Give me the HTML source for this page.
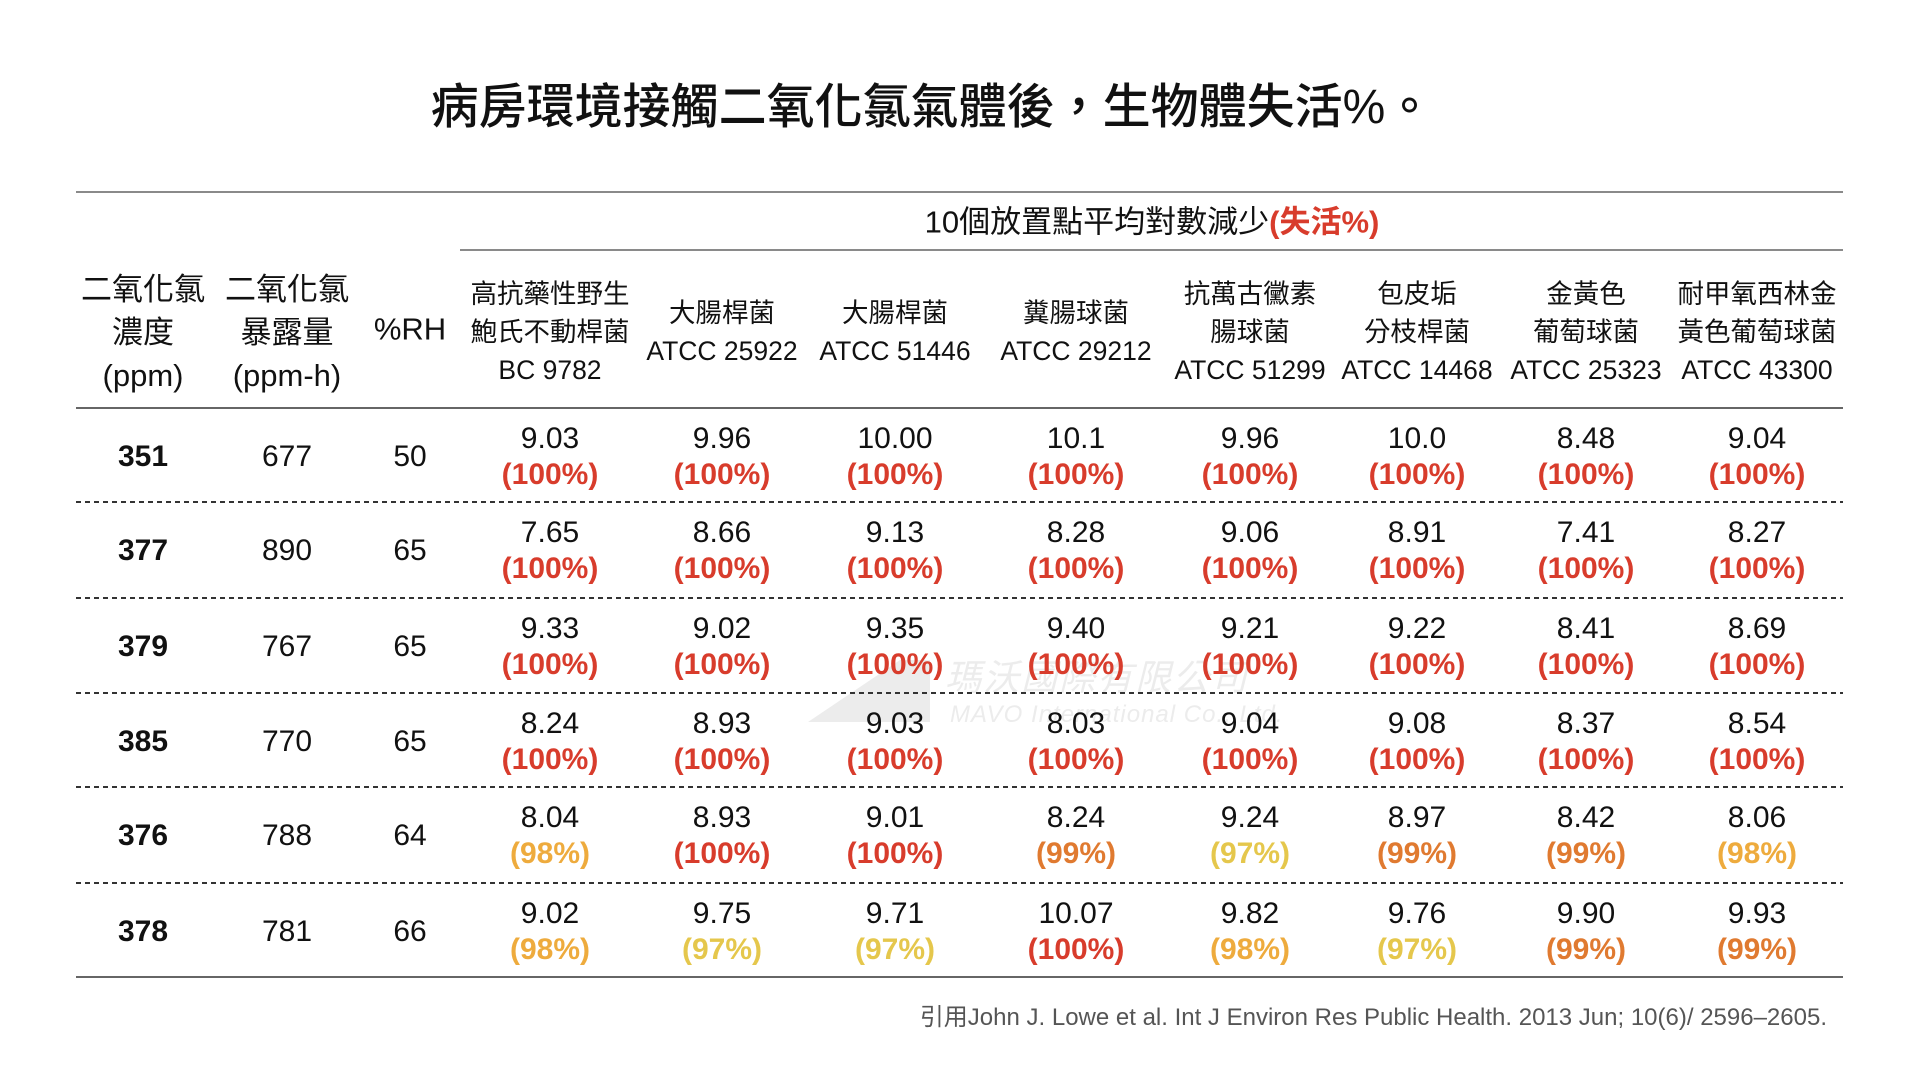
<!DOCTYPE html>
<html>
<head>
<meta charset="utf-8">
<style>
html,body{margin:0;padding:0;background:#fff;}
body{width:1920px;height:1080px;position:relative;overflow:hidden;font-family:"Liberation Sans","Noto Sans CJK TC",sans-serif;color:#111;}
.a{position:absolute;white-space:nowrap;line-height:1;transform:translate(-50%,-50%);}
.title{position:absolute;left:960px;top:108px;transform:translate(-50%,-50%);font-size:48px;line-height:1;white-space:nowrap;font-weight:500;color:#111;margin-left:-28px;}
.sub{font-size:31px;}
.sub b{color:#d83c2c;font-weight:bold;}
.hs{position:absolute;width:220px;margin-left:-110px;text-align:center;font-size:26.5px;line-height:38px;white-space:nowrap;}
.hb{position:absolute;width:200px;margin-left:-100px;text-align:center;font-size:31px;line-height:43px;white-space:nowrap;}
.d{position:absolute;width:0;height:95px;}
.d b,.d i{position:absolute;left:0;transform:translate(-50%,-50%);line-height:1;white-space:nowrap;font-size:30px;}
.d b{top:31px;font-weight:normal;color:#111;}
.d i{top:67px;font-style:normal;font-weight:bold;}
.f{position:absolute;left:0;transform:translate(-50%,-50%);top:49px;font-size:30px;line-height:1;white-space:nowrap;}
.f.bold{font-weight:bold;}
.r{color:#d83c2c;} .o{color:#e07a30;} .y{color:#eeab3d;} .g{color:#e5c74c;}
.c1{left:143px}.c2{left:287px}.c3{left:410px}.c4{left:550px}.c5{left:722px}.c6{left:895px}.c7{left:1076px}.c8{left:1250px}.c9{left:1417px}.c10{left:1586px}.c11{left:1757px}
.r1{top:408px}.r2{top:502px}.r3{top:598px}.r4{top:693px}.r5{top:787px}.r6{top:883px}
.foot{position:absolute;right:93px;top:1018px;transform:translateY(-50%);font-size:24px;line-height:1;color:#555;white-space:nowrap;}
svg{position:absolute;left:0;top:0;}
</style>
</head>
<body>
<svg width="1920" height="1080" viewBox="0 0 1920 1080">
  <g fill="#ececec">
    <polygon points="808,722 900,660 930,660 930,722"/>
    <text x="945" y="690" font-family="Noto Sans CJK TC, sans-serif" font-size="36" font-style="italic" letter-spacing="2">瑪沃國際有限公司</text>
    <text x="950" y="722" font-family="Liberation Sans, sans-serif" font-size="24" font-style="italic" letter-spacing="1">MAVO International Co., Ltd.</text>
  </g>
  <line x1="76" y1="192" x2="1843" y2="192" stroke="#8a8a8a" stroke-width="2"/>
  <line x1="460" y1="250" x2="1843" y2="250" stroke="#8a8a8a" stroke-width="2"/>
  <line x1="76" y1="408" x2="1843" y2="408" stroke="#666" stroke-width="2"/>
  <g stroke="#333" stroke-width="2" stroke-dasharray="5 4">
    <line x1="76" y1="502" x2="1843" y2="502"/>
    <line x1="76" y1="598" x2="1843" y2="598"/>
    <line x1="76" y1="693" x2="1843" y2="693"/>
    <line x1="76" y1="787" x2="1843" y2="787"/>
    <line x1="76" y1="883" x2="1843" y2="883"/>
  </g>
  <line x1="76" y1="977" x2="1843" y2="977" stroke="#666" stroke-width="2"/>
</svg>

<div class="title">病房環境接觸二氧化氯氣體後，生物體失活%。</div>

<div class="a sub" style="left:1152px;top:222px;">10個放置點平均對數減少<b>(失活%)</b></div>

<div class="hb" style="left:143px;top:268px;">二氧化氯<br>濃度<br>(ppm)</div>
<div class="hb" style="left:287px;top:268px;">二氧化氯<br>暴露量<br>(ppm-h)</div>
<div class="a" style="left:410px;top:329px;font-size:31px;">%RH</div>

<div class="hs c4" style="top:275px;">高抗藥性野生<br>鮑氏不動桿菌<br>BC 9782</div>
<div class="hs c5" style="top:294px;">大腸桿菌<br>ATCC 25922</div>
<div class="hs c6" style="top:294px;">大腸桿菌<br>ATCC 51446</div>
<div class="hs c7" style="top:294px;">糞腸球菌<br>ATCC 29212</div>
<div class="hs c8" style="top:275px;">抗萬古黴素<br>腸球菌<br>ATCC 51299</div>
<div class="hs c9" style="top:275px;">包皮垢<br>分枝桿菌<br>ATCC 14468</div>
<div class="hs c10" style="top:275px;">金黃色<br>葡萄球菌<br>ATCC 25323</div>
<div class="hs c11" style="top:275px;">耐甲氧西林金<br>黃色葡萄球菌<br>ATCC 43300</div>

<div class="d c1 r1"><span class="f bold">351</span></div>
<div class="d c2 r1"><span class="f">677</span></div>
<div class="d c3 r1"><span class="f">50</span></div>
<div class="d c4 r1"><b>9.03</b><i class="r">(100%)</i></div>
<div class="d c5 r1"><b>9.96</b><i class="r">(100%)</i></div>
<div class="d c6 r1"><b>10.00</b><i class="r">(100%)</i></div>
<div class="d c7 r1"><b>10.1</b><i class="r">(100%)</i></div>
<div class="d c8 r1"><b>9.96</b><i class="r">(100%)</i></div>
<div class="d c9 r1"><b>10.0</b><i class="r">(100%)</i></div>
<div class="d c10 r1"><b>8.48</b><i class="r">(100%)</i></div>
<div class="d c11 r1"><b>9.04</b><i class="r">(100%)</i></div>

<div class="d c1 r2"><span class="f bold">377</span></div>
<div class="d c2 r2"><span class="f">890</span></div>
<div class="d c3 r2"><span class="f">65</span></div>
<div class="d c4 r2"><b>7.65</b><i class="r">(100%)</i></div>
<div class="d c5 r2"><b>8.66</b><i class="r">(100%)</i></div>
<div class="d c6 r2"><b>9.13</b><i class="r">(100%)</i></div>
<div class="d c7 r2"><b>8.28</b><i class="r">(100%)</i></div>
<div class="d c8 r2"><b>9.06</b><i class="r">(100%)</i></div>
<div class="d c9 r2"><b>8.91</b><i class="r">(100%)</i></div>
<div class="d c10 r2"><b>7.41</b><i class="r">(100%)</i></div>
<div class="d c11 r2"><b>8.27</b><i class="r">(100%)</i></div>

<div class="d c1 r3"><span class="f bold">379</span></div>
<div class="d c2 r3"><span class="f">767</span></div>
<div class="d c3 r3"><span class="f">65</span></div>
<div class="d c4 r3"><b>9.33</b><i class="r">(100%)</i></div>
<div class="d c5 r3"><b>9.02</b><i class="r">(100%)</i></div>
<div class="d c6 r3"><b>9.35</b><i class="r">(100%)</i></div>
<div class="d c7 r3"><b>9.40</b><i class="r">(100%)</i></div>
<div class="d c8 r3"><b>9.21</b><i class="r">(100%)</i></div>
<div class="d c9 r3"><b>9.22</b><i class="r">(100%)</i></div>
<div class="d c10 r3"><b>8.41</b><i class="r">(100%)</i></div>
<div class="d c11 r3"><b>8.69</b><i class="r">(100%)</i></div>

<div class="d c1 r4"><span class="f bold">385</span></div>
<div class="d c2 r4"><span class="f">770</span></div>
<div class="d c3 r4"><span class="f">65</span></div>
<div class="d c4 r4"><b>8.24</b><i class="r">(100%)</i></div>
<div class="d c5 r4"><b>8.93</b><i class="r">(100%)</i></div>
<div class="d c6 r4"><b>9.03</b><i class="r">(100%)</i></div>
<div class="d c7 r4"><b>8.03</b><i class="r">(100%)</i></div>
<div class="d c8 r4"><b>9.04</b><i class="r">(100%)</i></div>
<div class="d c9 r4"><b>9.08</b><i class="r">(100%)</i></div>
<div class="d c10 r4"><b>8.37</b><i class="r">(100%)</i></div>
<div class="d c11 r4"><b>8.54</b><i class="r">(100%)</i></div>

<div class="d c1 r5"><span class="f bold">376</span></div>
<div class="d c2 r5"><span class="f">788</span></div>
<div class="d c3 r5"><span class="f">64</span></div>
<div class="d c4 r5"><b>8.04</b><i class="y">(98%)</i></div>
<div class="d c5 r5"><b>8.93</b><i class="r">(100%)</i></div>
<div class="d c6 r5"><b>9.01</b><i class="r">(100%)</i></div>
<div class="d c7 r5"><b>8.24</b><i class="o">(99%)</i></div>
<div class="d c8 r5"><b>9.24</b><i class="g">(97%)</i></div>
<div class="d c9 r5"><b>8.97</b><i class="o">(99%)</i></div>
<div class="d c10 r5"><b>8.42</b><i class="o">(99%)</i></div>
<div class="d c11 r5"><b>8.06</b><i class="y">(98%)</i></div>

<div class="d c1 r6"><span class="f bold">378</span></div>
<div class="d c2 r6"><span class="f">781</span></div>
<div class="d c3 r6"><span class="f">66</span></div>
<div class="d c4 r6"><b>9.02</b><i class="y">(98%)</i></div>
<div class="d c5 r6"><b>9.75</b><i class="g">(97%)</i></div>
<div class="d c6 r6"><b>9.71</b><i class="g">(97%)</i></div>
<div class="d c7 r6"><b>10.07</b><i class="r">(100%)</i></div>
<div class="d c8 r6"><b>9.82</b><i class="y">(98%)</i></div>
<div class="d c9 r6"><b>9.76</b><i class="g">(97%)</i></div>
<div class="d c10 r6"><b>9.90</b><i class="o">(99%)</i></div>
<div class="d c11 r6"><b>9.93</b><i class="o">(99%)</i></div>

<div class="foot">引用John J. Lowe et al. Int J Environ Res Public Health. 2013 Jun; 10(6)/ 2596–2605.</div>
</body>
</html>
